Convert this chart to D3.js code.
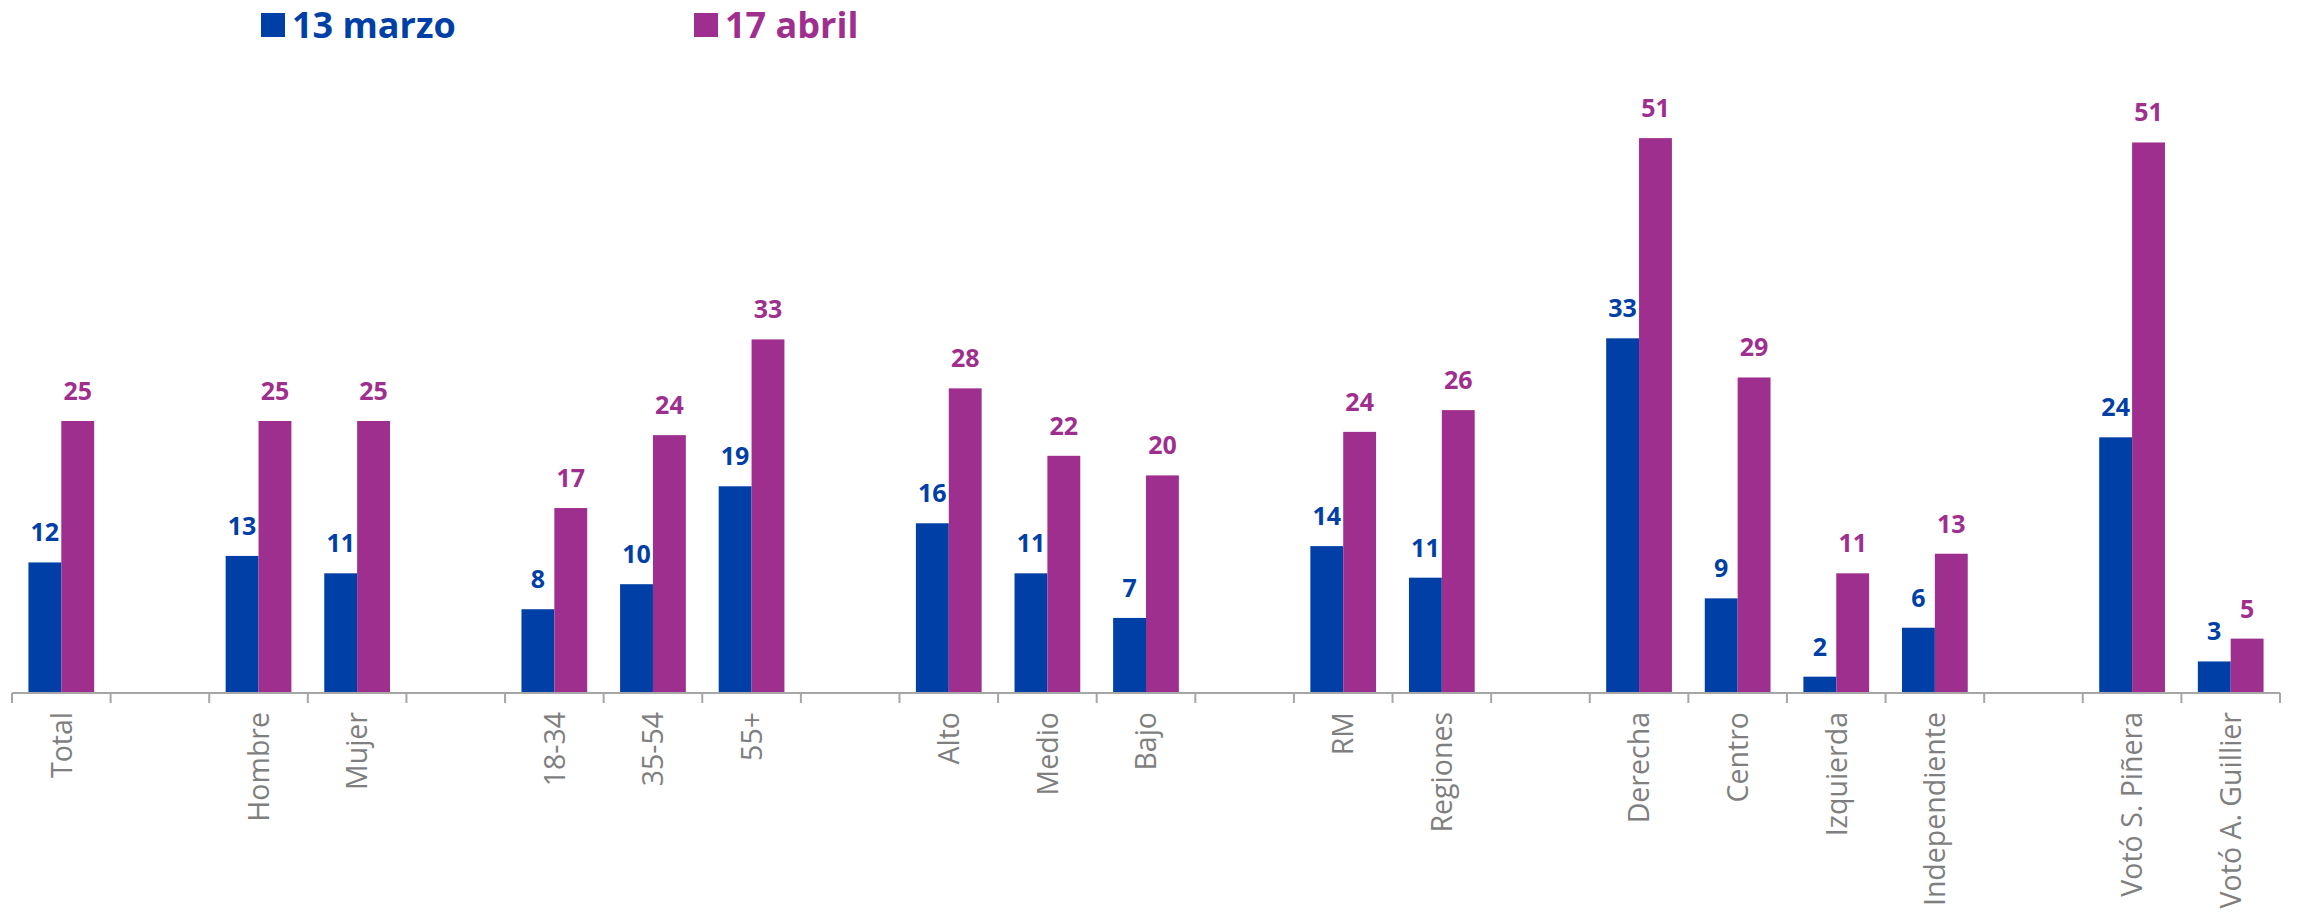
<!DOCTYPE html>
<html lang="es">

<head>
    <meta charset="utf-8">
    <script src="https://d3js.org/d3.v7.min.js"></script>
    <style>
        body { margin: 0; background: #fff; }
    </style>
</head>

<body>
    <div id="graph"></div>
    <script>
        // categories (empty strings are the gaps between groups)
        var categories = ["Total", "", "Hombre", "Mujer", "", "18-34", "35-54", "55+", "",
            "Alto", "Medio", "Bajo", "", "RM", "Regiones", "",
            "Derecha", "Centro", "Izquierda", "Independiente", "",
            "Votó S. Piñera", "Votó A. Guillier"];

        var seriesNames = ["13 marzo", "17 abril"];

        // values, labels are rounded
        var marzo = [12, null, 12.6, 11, null, 7.7, 10, 19, null, 15.6, 11, 6.9, null, 13.5, 10.6, null,
            32.6, 8.7, 1.5, 6, null, 23.5, 2.9];
        var abril = [25, null, 25, 25, null, 17, 23.7, 32.5, null, 28, 21.8, 20, null, 24, 26, null,
            51, 29, 11, 12.8, null, 50.6, 5];

        var colors = ["#0040a6", "#9e2f8e"];

        var width = 2297,
            height = 912,
            left = 12,
            right = 2280,
            baseline = 693;

        var svg = d3.select("#graph").append("svg")
            .attr("width", width)
            .attr("height", height);

        var x = d3.scaleBand()
            .domain(d3.range(categories.length))
            .range([left, right]);

        var x1 = d3.scaleBand()
            .domain([0, 1])
            .range([x.bandwidth() / 6, x.bandwidth() * 5 / 6]);

        var y = d3.scaleLinear()
            .domain([0, 60])
            .range([baseline, baseline - 60 * 10.88]);

        var rows = [];
        [marzo, abril].forEach(function(arr, s) {
            arr.forEach(function(v, i) {
                if (v != null) rows.push({ i: i, s: s, v: v });
            });
        });

        // bars
        svg.append("g")
            .selectAll("rect")
            .data(rows)
            .enter().append("rect")
            .attr("x", d => x(d.i) + x1(d.s))
            .attr("y", d => y(d.v))
            .attr("width", x1.bandwidth())
            .attr("height", d => baseline - y(d.v))
            .attr("fill", d => colors[d.s]);

        // value labels
        svg.append("g")
            .selectAll("text")
            .data(rows)
            .enter().append("text")
            .attr("x", d => x(d.i) + x1(d.s) + x1.bandwidth() / 2)
            .attr("y", d => y(d.v) - 21)
            .attr("text-anchor", "middle")
            .style("font-family", "'Open Sans', sans-serif")
            .style("font-weight", "700")
            .style("font-size", "25px")
            .attr("fill", d => colors[d.s])
            .text(d => Math.round(d.v));

        // x axis line and ticks
        var axis = svg.append("g").attr("stroke", "#a6a6a6").attr("stroke-width", 2);
        axis.append("line")
            .attr("x1", left).attr("x2", right)
            .attr("y1", baseline).attr("y2", baseline);
        axis.selectAll("line.tick")
            .data(d3.range(categories.length + 1))
            .enter().append("line")
            .attr("class", "tick")
            .attr("x1", i => left + i * x.step())
            .attr("x2", i => left + i * x.step())
            .attr("y1", baseline)
            .attr("y2", baseline + 10);

        // category labels, rotated
        svg.append("g")
            .selectAll("text")
            .data(categories.map((c, i) => ({ c: c, i: i })).filter(d => d.c !== ""))
            .enter().append("text")
            .attr("transform", d => "translate(" + (x(d.i) + x.bandwidth() / 2) + "," + (baseline + 19) + ") rotate(-90)")
            .attr("text-anchor", "end")
            .attr("dy", "0.36em")
            .style("font-family", "'Open Sans', sans-serif")
            .style("font-size", "28.5px")
            .attr("fill", "#7f7f7f")
            .text(d => d.c);

        // legend
        var legendX = [261, 694];
        var legend = svg.append("g")
            .selectAll("g")
            .data(seriesNames)
            .enter().append("g")
            .attr("transform", (d, i) => "translate(" + legendX[i] + ",0)");
        legend.append("rect")
            .attr("x", 0).attr("y", 13)
            .attr("width", 24).attr("height", 24)
            .attr("fill", (d, i) => colors[i]);
        legend.append("text")
            .attr("x", 31).attr("y", 38)
            .style("font-family", "'Open Sans', sans-serif")
            .style("font-weight", "700")
            .style("font-size", "36px")
            .attr("fill", (d, i) => colors[i])
            .text(d => d);
    </script>
</body>

</html>
